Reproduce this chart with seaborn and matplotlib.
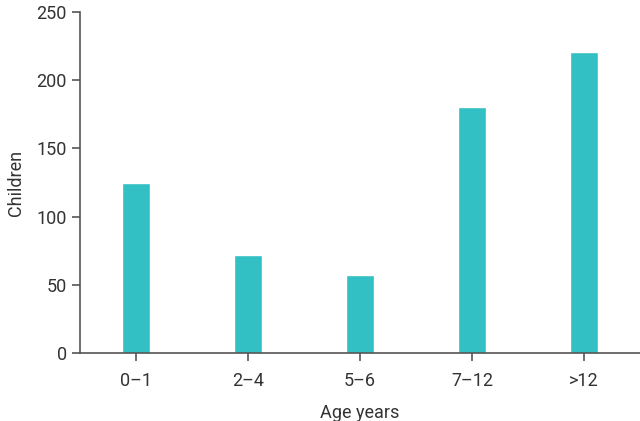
import matplotlib
matplotlib.use("Agg")
import matplotlib.pyplot as plt
import pandas as pd
import seaborn as sns

# --- data ---
age_groups = ["0\u20131", "2\u20134", "5\u20136", "7\u201312", ">12"]
children = [125, 72, 57, 180, 221]

df = pd.DataFrame({"age": age_groups, "children": children})

sns.set_style("ticks")
plt.rcParams["font.family"] = ["Roboto", "DejaVu Sans"]

fig = plt.figure(figsize=(6.4, 4.21), dpi=100)
ax = fig.add_axes([0.125, 0.1615, 0.875, 0.81])

sns.barplot(data=df, x="age", y="children", color="#33C0C5", width=0.25,
            saturation=1, ax=ax)

ax.set_xlim(-0.5, 4.5)
ax.set_ylim(0, 250)
ax.set_yticks([0, 50, 100, 150, 200, 250])
ax.set_xlabel("Age years", fontsize=13, color="#333333", labelpad=10)
ax.set_ylabel("Children", fontsize=13, color="#333333", labelpad=8)
ax.tick_params(axis="both", labelsize=13, colors="#333333", length=6, width=1.2,
               color="#555555")
ax.tick_params(axis="x", pad=8)
sns.despine(ax=ax)
for side in ["left", "bottom"]:
    ax.spines[side].set_color("#555555")
    ax.spines[side].set_linewidth(1.2)

fig.savefig("out.png", dpi=100)
